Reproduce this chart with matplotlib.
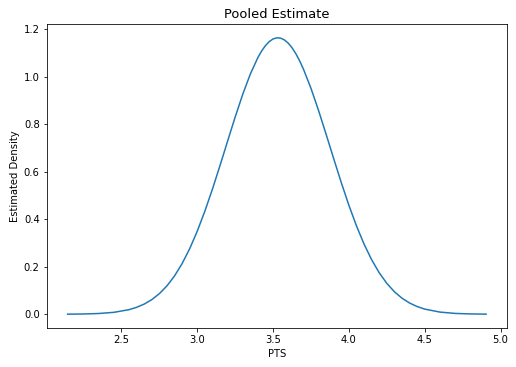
import matplotlib
matplotlib.use("Agg")
import matplotlib.pyplot as plt

# density curve values
pts = [2.145, 2.25, 2.35, 2.45, 2.55, 2.60, 2.65, 2.70, 2.75, 2.80,
       2.85, 2.90, 2.95, 3.00, 3.05, 3.10, 3.15, 3.20, 3.25, 3.30,
       3.35, 3.40, 3.425, 3.45, 3.475, 3.50, 3.525, 3.55, 3.575, 3.60,
       3.625, 3.65, 3.675, 3.70, 3.75, 3.80,
       3.85, 3.90, 3.95, 4.00, 4.05, 4.10, 4.15, 4.20, 4.25, 4.30,
       4.35, 4.40, 4.45, 4.50, 4.60, 4.70, 4.80, 4.905]
density = [0.0003, 0.0011, 0.0031, 0.0080, 0.0193, 0.0290, 0.0427, 0.0614, 0.0865, 0.1193,
           0.1611, 0.2130, 0.2756, 0.3494, 0.4333, 0.5261, 0.6254, 0.7280, 0.8295, 0.9253,
           1.0103, 1.0800, 1.1078, 1.1302, 1.1471, 1.1580, 1.1628, 1.1614, 1.1539, 1.1404,
           1.1210, 1.0962, 1.0662, 1.0315, 0.9503, 0.8571,
           0.7567, 0.6541, 0.5535, 0.4585, 0.3718, 0.2952, 0.2294, 0.1746, 0.1300, 0.0948,
           0.0677, 0.0473, 0.0324, 0.0217, 0.0091, 0.0035, 0.0013, 0.0004]

fig = plt.figure(figsize=(516 / 72, 367 / 72), dpi=72, facecolor="white")
ax = fig.add_axes([0.0905, 0.1063, 0.8921, 0.8283])

ax.plot(pts, density, color="#1f77b4", lw=1.5)
ax.set_title("Pooled Estimate", fontsize=13)
ax.set_xlabel("PTS")
ax.set_ylabel("Estimated Density")

fig.savefig("out.png", dpi=72, facecolor="white")
